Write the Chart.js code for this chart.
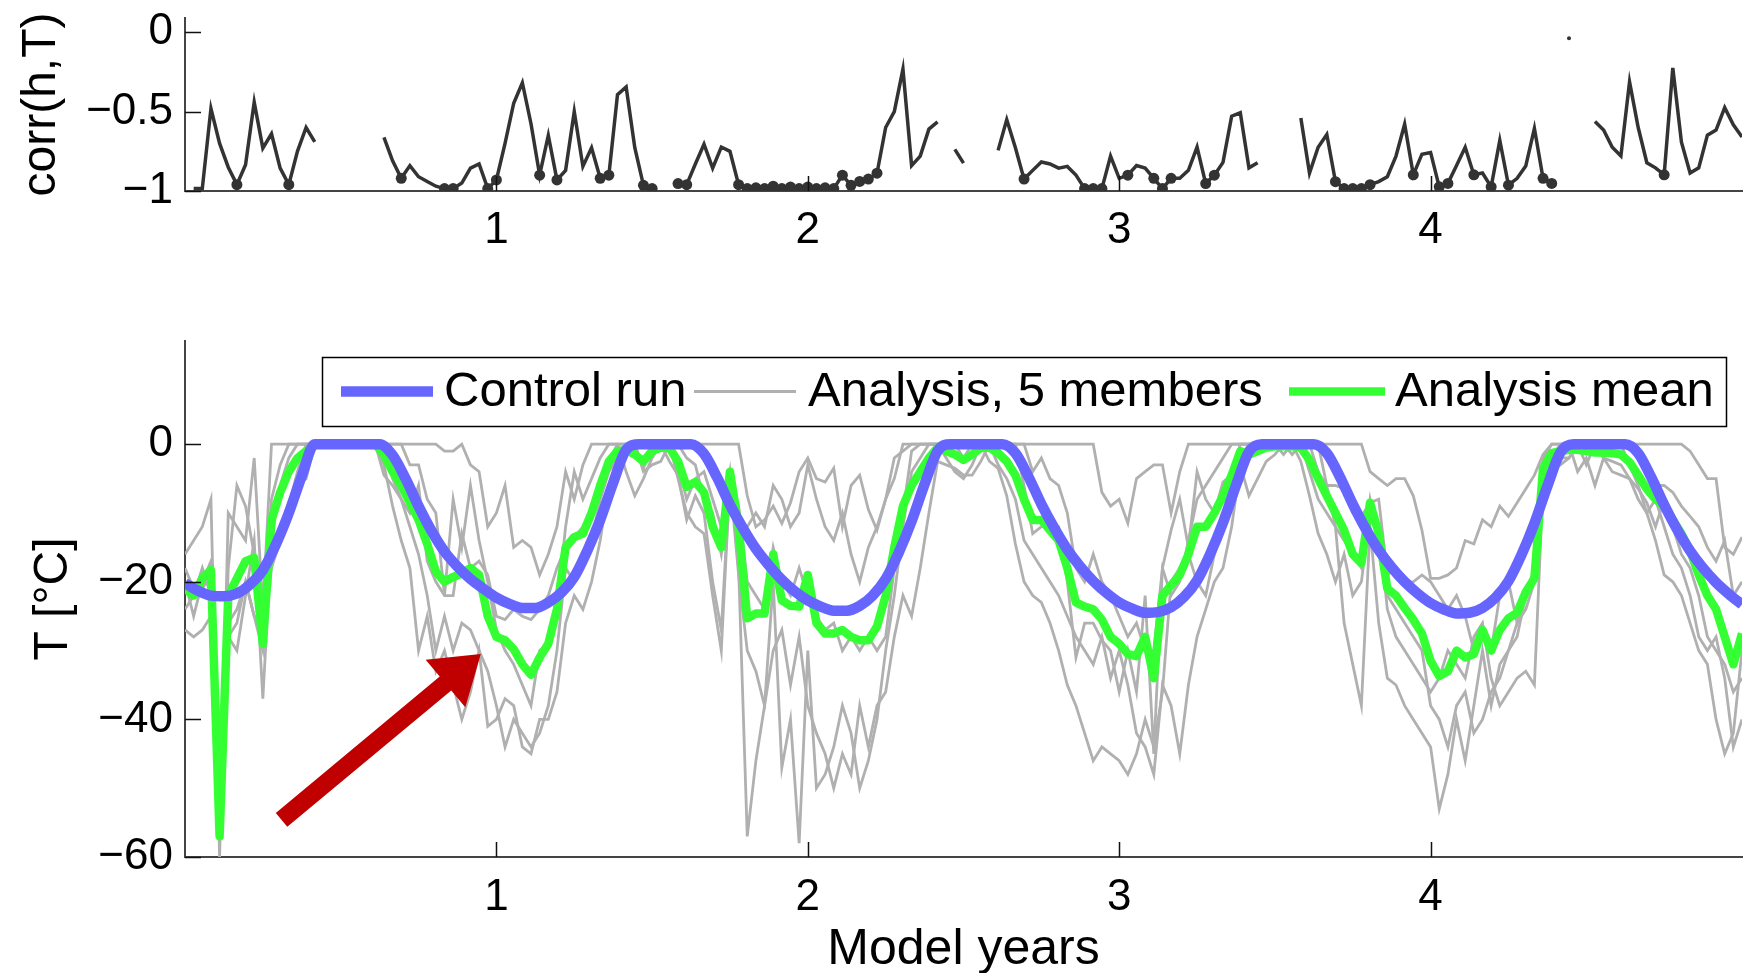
<!DOCTYPE html>
<html lang="en">
<head>
    <meta charset="UTF-8">
    <title>corr(h,T) and temperature</title>
    <script src="https://cdn.jsdelivr.net/npm/chart.js"></script>
    <style>
        body { margin: 0; background: #fff; }
        #wrap { position: relative; width: 1754px; height: 973px; background: #fff; overflow: hidden; }
        #wrap canvas { position: absolute; left: 0; }
    </style>
</head>
<body>
<div id="wrap">
    <canvas id="corrChart" width="1754" height="260" style="top:0"></canvas>
    <canvas id="tempChart" width="1754" height="713" style="top:260px"></canvas>
</div>

<script>
// tick values
const yearTicks = [1, 2, 3, 4];
const corrTicks = [0, -0.5, -1];
const tempTicks = [0, -20, -40, -60];

// control run, 24 samples per model year
const controlRun = [
    -20.2, -21.3, -22.0, -22.1, -21.7, -20.4, -18.3, -14.6, -10.0, -4.6, 0, 0, 0, 0, 0, 0, -1.6, -5.0, -9.0, -12.6, -15.6, -17.8, -19.6, -21.0,
    -22.3, -23.2, -23.8, -23.8, -23.0, -21.6, -19.3, -15.5, -11.0, -5.6, -0.8, 0, 0, 0, 0, 0, -1.4, -4.8, -8.8, -12.2, -15.2, -17.6, -19.7, -21.4,
    -22.7, -23.6, -24.2, -24.2, -23.5, -22.0, -19.6, -15.8, -11.2, -5.8, -1.0, 0, 0, 0, 0, 0, -1.3, -4.7, -8.7, -12.2, -15.3, -17.8, -19.9, -21.6,
    -23.0, -23.9, -24.5, -24.4, -23.7, -22.2, -19.8, -16.0, -11.4, -6.0, -1.1, 0, 0, 0, 0, 0, -1.3, -4.7, -8.7, -12.3, -15.4, -17.9, -20.0, -21.7,
    -23.1, -24.0, -24.6, -24.5, -23.8, -22.3, -19.9, -16.1, -11.5, -6.1, -1.2, 0, 0, 0, 0, 0, -1.3, -4.8, -8.8, -12.4, -15.5, -18.0, -20.1, -21.8,
    -23.3
];

// analysis mean, 36 samples per model year
const analysisMean = [
    -21, -22, -19.5, -18.3, -57, -22, -19.5, -17, -16.5, -29, -11, -7, -4, -2, -1, 0, 0, 0, 0, 0, 0, 0, 0, -1.5, -4, -6, -8.5, -11, -14.5, -18.5, -20, -19.3, -18.8, -18, -19, -25,
    -28, -28.5, -29.8, -32, -33.5, -31, -29, -24, -15, -13.5, -13, -10, -6, -2.5, -1, -0.8, -1.5, -2.5, -1, -0.5, -0.5, -2.5, -6.2, -5.5, -7, -12, -15, -4, -12, -25.3, -24.6, -24.6, -16, -22.7, -23.5, -23.6,
    -19, -26, -27.5, -27.5, -27, -28, -28.5, -28.5, -26.5, -22, -15, -9, -6, -4, -2, -0.5, -1, -1.5, -2.3, -1.5, -0.5, -0.5, -1.3, -2.5, -4.5, -8, -11, -11, -12.5, -14, -18, -23, -23.6, -24, -25.5, -28,
    -29, -30.5, -30.8, -28, -34, -22, -20.5, -19, -16, -12, -12, -10, -7.5, -4.5, -1, -1.5, -1, -0.5, -0.3, -0.3, -0.3, -0.5, -2.3, -5, -7.5, -10, -12.5, -16, -17.3, -8.5, -13, -21, -22, -23.8, -25.5, -27.5,
    -31.5, -33.7, -33, -30, -31, -30.5, -27, -30, -27, -25.3, -24.5, -21.5, -19.5, -3.5, -1.3, -1, -0.8, -0.8, -1, -1.2, -1.2, -1.3, -1.5, -2.6, -4.5, -6.5, -8, -9, -11, -13, -15.5, -19, -22, -24, -28, -32,
    -27.5
];

// the five analysis members, 36 samples per model year
const member1 = [
    -16, -14, -12, -8, -60, -10, -12, -14, -2, -24, 0, 0, 0, 0, 0, 0, 0, 0, 0, 0, 0, 0, 0, 0, 0, 0, 0, 0, 0, 0, -1, -1, 0, -3, -4, -12,
    -10, -6, -15, -14, -15, -19, -16, -12, -4, -8, -3, 0, 0, 0, 0, 0, 0, 0, 0, 0, 0, 0, -2, -3, -8, -10, -16, -6, -14, -12, -10, -12, -6, -8, -12, -10,
    -3, -8, -12, -14, -10, -16, -20, -15, -12, -8, -5, 0, 0, 0, 0, 0, 0, 0, 0, 0, 0, 0, 0, 0, 0, 0, -4, -2, -5, -6, -10, -18, -20, -16, -20, -22,
    -25, -28, -26, -30, -30, -18, -22, -20, -14, -8, -6, -4, -2, 0, 0, 0, 0, 0, 0, 0, 0, 0, 0, -4, -6, -12, -26, -32, -38, -12, -26, -34, -35, -38, -40, -42,
    -44, -53, -48, -40, -46, -38, -30, -38, -32, -30, -28, -22, -18, -2, 0, 0, 0, 0, 0, 0, 0, 0, 0, -3, -6, -10, -14, -19, -20, -22, -26, -30, -32, -40, -45, -42,
    -30
];
const member2 = [
    -20, -25, -20, -17, -55, -18, -6, -9, -16, -28, -8, -3, 0, 0, 0, 0, 0, 0, 0, 0, 0, 0, 0, 0, 0, 0, -3, -3, -8, -10, -22, -8, -15, -6, -14, -20,
    -27, -30, -32, -35, -38, -30, -29, -24, -12, -4, -8, -5, -2, 0, 0, -4, -7.5, -5, -2, 0, 0, -3, -8, -5, -4, -8, -12, -4, -18, -57, -46, -38, -20, -47, -40, -58,
    -30, -50, -48, -44, -38, -42, -50, -46, -40, -30, -22, -12, -4, -2, 0, 0, -2, -4, -5, -3, 0, 0, -3, -5, -8, -14, -16, -18, -20, -22, -25, -28, -30, -32, -28, -34,
    -30, -35, -42, -44, -48, -35, -38, -45, -35, -28, -24, -20, -18, -12, -3, -7.5, -5, -2.5, -1.5, 0, 0, 0, -4, -8, -10, -12, -14, -16, -18, -8, -14, -22, -24, -26, -28, -30,
    -38, -40, -44, -38, -36, -42, -40, -36, -34, -30, -26, -24, -20, -4, -2, 0, 0, -4, -2, -6, -2, -2.5, -3, -5, -8, -10, -8, -12, -16, -18, -22, -28, -30, -28, -34, -44,
    -40
];
const member3 = [
    -24, -22, -18, -22, -58, -28, -30, -22, -14, -37, -14, -6, -2, 0, 0, 0, 0, 0, 0, 0, 0, 0, 0, 0, -5, -8, -12, -16, -22, -30, -25, -30, -26, -27, -30, -33,
    -38, -44, -40, -42, -44, -42, -38, -30, -18, -20, -18, -14, -8, -4, -2, 0, 0, -4, -3, -2.5, 0, -5, -10, -12, -13, -22, -30, -5, -9, -20, -22, -24, -15, -20, -22, -18,
    -22, -25, -27, -26, -30, -28, -30, -28, -30, -28, -18, -10, -1, 0, 0, 0, 0, 0, -2, 0, 0, -2.5, -3.5, -7.5, -14.5, -20, -22, -23, -26, -30, -35, -38, -42, -46, -44, -45,
    -46, -48, -45, -40, -44, -36, -20, -18, -16, -20, -22, -16, -12, -6, -2, 0, 0, 0, 0, -1.5, 0, -2.5, -7.5, -13, -16, -20, -16, -22, -20, -10, -12, -24, -28, -30, -32, -34,
    -36, -34, -30, -32, -34, -28, -26, -34, -38, -36, -34, -33, -35, -6, -2.5, -3, -2, 0, 0, 0, -2, -4, -4.5, -5, -6.5, -8.5, -12, -8, -12, -16, -18, -22, -28, -30, -32, -36,
    -34
];
const member4 = [
    -27, -28, -27, -25, -56, -26, -24, -20, -25, -30, -18, -14, -9, -4, 0, 0, 0, 0, 0, 0, 0, 0, 0, -3, -9, -14, -18, -30, -25, -33, -30, -35, -40, -36, -30, -41,
    -40, -37, -38, -44, -45, -40, -40, -36, -26, -22, -24, -20, -14, -6, -3, 0, 0, -3.5, 0, 0, -2.5, -4.5, -11, -7.5, -10, -20, -27, -5, -19, -30, -33, -38, -30, -27, -35, -28,
    -38, -42, -45, -50, -45, -48, -38, -44, -38, -36, -28, -22, -25, -18, -10, -2.5, -3, -3.5, -4.5, -4.5, -2.5, 0, 0, 0, 0, -6, -13, -12, -11.5, -12, -20, -31, -26, -26, -28.5, -30,
    -36, -30, -36, -22, -45, -18, -12.5, -8, -15, -4, -8, -10, -5.5, -4.5, 0, 0, 0, 0, 0, 0, -1.5, 0, 0, 0, -6, -6, -6.5, -10, -10.5, -8.5, -8, -19, -18, -20, -20, -19,
    -20, -22, -24, -22, -25, -30, -28, -30, -22, -20, -26, -22, -20, -4, -2, -2, -2, 0, -3, 0, -2, 0, 0, 0, -2, -4, -6, -6, -7, -9, -10.5, -12, -15, -17, -14, -22,
    -20
];
const member5 = [
    -18, -21, -21, -19, -56, -28, -26, -20, -25, -26, -15, -12, -9, -6, -5, 0, 0, 0, 0, 0, 0, 0, 0, -4.5, -6, -8, -10, -6, -17, -20, -22, -22, -13, -18, -17, -19,
    -25, -25.5, -24, -25, -25.5, -24, -22, -18, -15, -13.5, -12, -11, -6, -2.5, 0, 0, 0, 0, 0, 0, 0, 0, 0, 0, 0, 0, 0, 0, 0, -7.5, -12, -11, -9, -11.5, -8.5, -4,
    -2, -5, -5.5, -3.5, -12, -6, -4.5, -9.5, -12.5, -8, -2, -1, 0, 0, 0, 0, 0, 0, 0, 0, 0, 0, 0, 0, 0, 0, 0, 0, 0, 0, 0, 0, 0, 0, -7, -9,
    -8, -11.5, -5, -4, -3, -3, -10, -4, 0, 0, 0, 0, 0, 0, 0, 0, 0, 0, 0, 0, 0, 0, 0, 0, 0, 0, 0, 0, 0, -4, -5, -6, -5, -5, -7.5, -12.5,
    -19.5, -19.5, -19, -18, -14, -14.5, -11, -12, -9, -10.5, -8.5, -6.5, -4.5, -1.5, 0, 0, 0, 0, 0, 0, 0, 0, 0, 0, 0, 0, 0, 0, 0, 0, -1, -3, -5, -5, -15, -16,
    -13.5
];

// corr(h,T), 36 samples per model year, null = no value
const corrHT = [
    null, -0.985, -0.985, -0.48, -0.70, -0.85, -0.96, -0.835, -0.44, -0.73, -0.64, -0.856, -0.96, -0.75, -0.60, -0.69, null, null, null, null, null, null, null, -0.662, -0.81, -0.92, -0.84, -0.91, -0.94, -0.97, -0.985, -0.985, -0.95, -0.856, -0.83, -0.985,
    -0.93, -0.70, -0.447, -0.318, -0.576, -0.90, -0.65, -0.93, -0.87, -0.50, -0.845, -0.727, -0.92, -0.90, -0.393, -0.344, -0.727, -0.964, -0.985, null, null, -0.953, -0.96, -0.83, -0.705, -0.856, -0.723, -0.75, -0.96, -0.985, -0.98, -0.985, -0.97, -0.985, -0.975, -0.985,
    -0.975, -0.985, -0.98, -0.985, -0.90, -0.964, -0.94, -0.925, -0.888, -0.60, -0.50, -0.232, -0.84, -0.78, -0.61, -0.565, null, -0.738, -0.824, null, null, null, -0.744, -0.55, -0.727, -0.925, -0.87, -0.817, -0.83, -0.856, -0.845, -0.90, -0.985, -0.985, -0.985, -0.78,
    -0.92, -0.90, -0.84, -0.856, -0.92, -0.985, -0.92, -0.92, -0.87, -0.723, -0.953, -0.90, -0.82, -0.529, -0.507, -0.854, -0.822, null, null, null, null, -0.54, -0.887, -0.724, -0.644, -0.941, -0.985, -0.985, -0.985, -0.96, -0.941, -0.91, -0.78, -0.579, -0.898, -0.768,
    -0.757, -0.974, -0.952, -0.84, -0.724, -0.898, -0.887, -0.974, -0.681, -0.963, -0.92, -0.843, -0.605, -0.92, -0.952, null, -0.037, null, null, -0.562, -0.616, -0.724, -0.779, -0.312, -0.60, -0.822, -0.854, -0.898, -0.225, -0.692, -0.887, -0.854, -0.648, -0.616, -0.475, -0.583, -0.659
];
// samples of corrHT drawn with a dot
const corrMarked = [6, 12, 25, 30, 31, 35, 36, 41, 43, 48, 49, 53, 54, 57, 58,
    64, 65, 66, 67, 68, 69, 70, 71, 72, 73, 74, 75, 76, 77, 78, 79, 80, 97, 104, 105, 106,
    109, 112, 113, 114, 118, 119, 133, 134, 135, 136, 137, 142,
    145, 146, 149, 151, 153, 157, 158, 160, 171];

// ---------------------------------------------------------------
const FONT = '"Liberation Sans", Arial, Helvetica, sans-serif';
Chart.defaults.font.family = FONT;
Chart.defaults.color = '#000';

const toXY = (vals, perYear) => vals.map((v, i) => ({ x: i / perYear, y: v }));
const minusSign = v => String(v).replace('-', '\u2212');

// MATLAB style tick marks, drawn inside the axes
const innerTicks = {
    id: 'innerTicks',
    afterDatasetsDraw(chart) {
        const { ctx, chartArea: a, scales: { x, y } } = chart;
        ctx.save();
        ctx.strokeStyle = '#111';
        ctx.lineWidth = 1.5;
        ctx.beginPath();
        x.ticks.forEach(t => {
            const px = Math.round(x.getPixelForValue(t.value)) + 0.5;
            ctx.moveTo(px, a.bottom);
            ctx.lineTo(px, a.bottom - 15);
        });
        y.ticks.forEach(t => {
            const py = Math.round(y.getPixelForValue(t.value)) + 0.5;
            ctx.moveTo(a.left, py);
            ctx.lineTo(a.left + 16, py);
        });
        ctx.stroke();
        ctx.restore();
    }
};

// red arrow, given in data units
const arrowPlugin = {
    id: 'arrow',
    afterDatasetsDraw(chart, args, o) {
        const { ctx, scales: { x, y } } = chart;
        const x0 = x.getPixelForValue(o.from[0]), y0 = y.getPixelForValue(o.from[1]);
        const x1 = x.getPixelForValue(o.to[0]), y1 = y.getPixelForValue(o.to[1]);
        const len = Math.hypot(x1 - x0, y1 - y0);
        const ux = (x1 - x0) / len, uy = (y1 - y0) / len, nx = -uy, ny = ux;
        const bx = x1 - ux * o.headLength, by = y1 - uy * o.headLength;
        const s = o.shaft / 2, h = o.headWidth / 2;
        ctx.save();
        ctx.fillStyle = o.color;
        ctx.beginPath();
        ctx.moveTo(x0 + nx * s, y0 + ny * s);
        ctx.lineTo(bx + nx * s, by + ny * s);
        ctx.lineTo(bx + nx * h, by + ny * h);
        ctx.lineTo(x1, y1);
        ctx.lineTo(bx - nx * h, by - ny * h);
        ctx.lineTo(bx - nx * s, by - ny * s);
        ctx.lineTo(x0 - nx * s, y0 - ny * s);
        ctx.closePath();
        ctx.fill();
        ctx.restore();
    }
};

// boxed legend inside the plot, one entry per listed dataset
const boxLegend = {
    id: 'boxLegend',
    afterDraw(chart, args, o) {
        const ctx = chart.ctx;
        ctx.save();
        ctx.fillStyle = '#fff';
        ctx.fillRect(o.left, o.top, o.right - o.left, o.height);
        ctx.strokeStyle = '#000';
        ctx.lineWidth = 1.5;
        ctx.strokeRect(o.left + 0.5, o.top + 0.5, o.right - o.left, o.height);
        ctx.font = o.fontSize + 'px ' + FONT;
        ctx.textBaseline = 'middle';
        ctx.textAlign = 'left';
        const yMid = o.top + o.height / 2;
        o.entries.forEach(e => {
            const ds = chart.data.datasets[e.dataset];
            ctx.strokeStyle = ds.borderColor;
            ctx.lineWidth = ds.borderWidth;
            ctx.lineCap = 'butt';
            ctx.beginPath();
            ctx.moveTo(e.line[0], yMid);
            ctx.lineTo(e.line[1], yMid);
            ctx.stroke();
            ctx.fillStyle = '#000';
            ctx.fillText(ds.label, e.text, yMid + 1);
        });
        ctx.restore();
    }
};

const xAxis = (height, pad, title) => ({
    type: 'linear', min: 0, max: 5,
    grid: { display: false, drawTicks: false },
    border: { color: '#444', width: 2 },
    ticks: { font: { size: 44 }, color: '#000', padding: pad, autoSkip: false, maxRotation: 0, callback: minusSign },
    title: title ? { display: true, text: title, font: { size: 50, lineHeight: 0.9 }, padding: 0 } : { display: false },
    afterBuildTicks: s => { s.ticks = yearTicks.map(v => ({ value: v })); },
    afterFit: s => { s.height = height; s.paddingLeft = 0; s.paddingRight = 0; }
});

const yAxis = (min, max, ticks, title, titlePad) => ({
    min: min, max: max,
    grid: { display: false, drawTicks: false },
    border: { color: '#444', width: 2 },
    ticks: { font: { size: 44 }, color: '#000', padding: 12, autoSkip: false, callback: minusSign },
    title: { display: true, text: title, font: { size: 48 }, padding: { top: titlePad, bottom: 0 } },
    afterBuildTicks: s => { s.ticks = ticks.map(v => ({ value: v })); },
    afterFit: s => { s.width = 185; s.paddingTop = 0; s.paddingBottom = 0; }
});

// top panel: corr(h,T)
new Chart(document.getElementById('corrChart'), {
    type: 'line',
    data: {
        datasets: [
            {
                label: 'corr dots',
                data: toXY(corrHT.map((v, i) => corrMarked.includes(i) ? v : null), 36),
                showLine: false,
                pointRadius: c => (c.raw && c.raw.y > -0.1) ? 2 : 5.5,
                pointBackgroundColor: '#333',
                pointBorderWidth: 0
            },
            {
                label: 'corr(h,T)',
                data: toXY(corrHT, 36),
                borderColor: '#333',
                borderWidth: 3.5,
                pointRadius: 0,
                spanGaps: false
            }
        ]
    },
    options: {
        responsive: false,
        animation: false,
        layout: { padding: { left: 0, right: 12, top: 18, bottom: 0 } },
        plugins: { legend: { display: false }, tooltip: { enabled: false } },
        scales: {
            x: xAxis(69, 13, null),
            y: yAxis(-1, 0.09, corrTicks, 'corr(h,T)', 13)
        }
    },
    plugins: [innerTicks]
});

// bottom panel: temperature
const grey = '#b0b0b0';
const memberSet = (vals, label) => ({
    label: label, data: toXY(vals, 36), borderColor: grey, borderWidth: 2.8, pointRadius: 0
});

new Chart(document.getElementById('tempChart'), {
    type: 'line',
    data: {
        datasets: [
            {
                label: 'Control run',
                data: toXY(controlRun, 24),
                borderColor: '#6666ff',
                borderWidth: 10.5,
                borderJoinStyle: 'round',
                cubicInterpolationMode: 'monotone',
                pointRadius: 0
            },
            {
                label: 'Analysis mean',
                data: toXY(analysisMean, 36),
                borderColor: '#33ff33',
                borderWidth: 8.5,
                borderJoinStyle: 'round',
                pointRadius: 0
            },
            memberSet(member1, 'Analysis, 5 members'),
            memberSet(member2, 'member 2'),
            memberSet(member3, 'member 3'),
            memberSet(member4, 'member 4'),
            memberSet(member5, 'member 5')
        ]
    },
    options: {
        responsive: false,
        animation: false,
        layout: { padding: { left: 0, right: 12, top: 81, bottom: 0 } },
        plugins: {
            legend: { display: false },
            tooltip: { enabled: false },
            arrow: { from: [0.31, -54.6], to: [0.95, -30.5], shaft: 18, headLength: 46, headWidth: 62, color: '#c00000' },
            boxLegend: {
                left: 322, right: 1726, top: 97, height: 69, fontSize: 49,
                entries: [
                    { dataset: 0, line: [341, 433], text: 444 },
                    { dataset: 2, line: [694, 796], text: 808 },
                    { dataset: 1, line: [1289, 1385], text: 1395 }
                ]
            }
        },
        scales: {
            x: xAxis(116, 14, 'Model years'),
            y: yAxis(-60, 15, tempTicks, 'T [\u00b0C]', 25)
        }
    },
    plugins: [innerTicks, arrowPlugin, boxLegend]
});
</script>
</body>
</html>
